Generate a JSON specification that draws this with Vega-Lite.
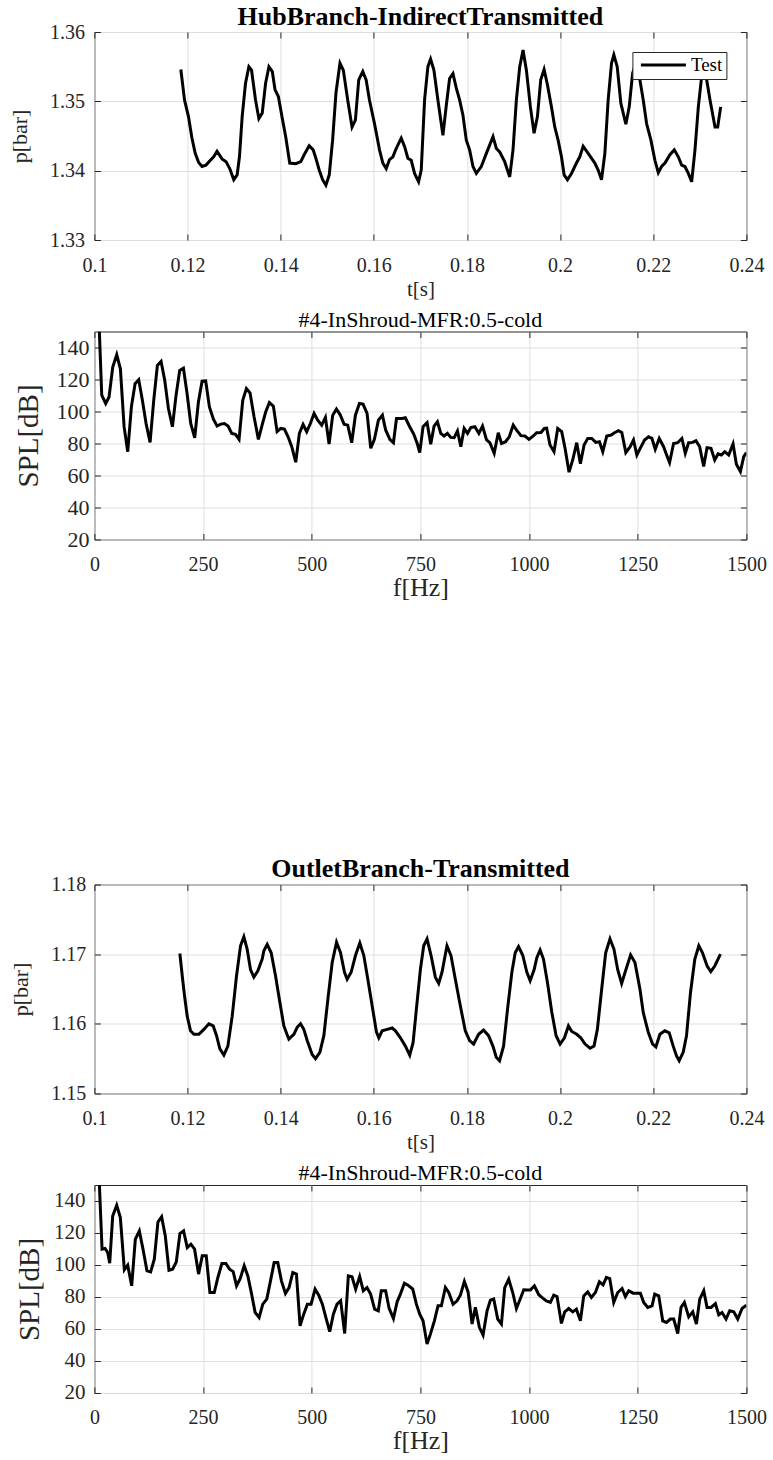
{
  "$schema": "https://vega.github.io/schema/vega-lite/v6.json",
  "background": "white",
  "padding": {"left": 7.4, "top": 3, "right": 0, "bottom": 0},
  "config": {
    "font": "Liberation Serif",
    "view": {"stroke": "#262626", "strokeWidth": 1},
    "axis": {
      "domain": false,
      "gridColor": "#dfdfdf",
      "gridWidth": 1,
      "tickColor": "#262626",
      "tickSize": -6,
      "minExtent": 0,
      "labelFlush": false,
      "labelFont": "Liberation Serif",
      "labelFontSize": 20,
      "labelColor": "#262626",
      "titleFont": "Liberation Serif",
      "titleFontWeight": "normal",
      "titleColor": "#262626"
    },
    "title": {"font": "Liberation Serif", "color": "black", "anchor": "middle"},
    "legend": {
      "title": null,
      "orient": "top-right",
      "offset": 20,
      "symbolType": "M-1,0H9",
      "symbolSize": 81,
      "symbolStrokeWidth": 3,
      "labelFont": "Liberation Serif",
      "labelFontSize": 19,
      "labelColor": "black",
      "labelOffset": 36,
      "padding": 3.5,
      "strokeColor": "#262626",
      "fillColor": "white"
    }
  },
  "datasets": {
    "hub": [
      {"t":0.11856,"p":1.3546},{"t":0.11935,"p":1.3502},{"t":0.1202,"p":1.3478},{"t":0.12094,"p":1.3447},{"t":0.12165,"p":1.3425},{"t":0.12237,"p":1.3412},{"t":0.1231,"p":1.3406},{"t":0.12396,"p":1.3408},{"t":0.1249,"p":1.3415},{"t":0.12561,"p":1.342},{"t":0.12633,"p":1.3428},{"t":0.1274,"p":1.3417},{"t":0.12827,"p":1.3413},{"t":0.12906,"p":1.3403},{"t":0.12993,"p":1.3387},{"t":0.13065,"p":1.3394},{"t":0.13115,"p":1.342},{"t":0.13173,"p":1.3478},{"t":0.13245,"p":1.3526},{"t":0.13317,"p":1.355},{"t":0.13374,"p":1.3545},{"t":0.1346,"p":1.3502},{"t":0.13532,"p":1.3475},{"t":0.13604,"p":1.3483},{"t":0.13676,"p":1.3526},{"t":0.13748,"p":1.355},{"t":0.1382,"p":1.3543},{"t":0.13878,"p":1.3517},{"t":0.1395,"p":1.3507},{"t":0.14036,"p":1.3475},{"t":0.14108,"p":1.3449},{"t":0.14194,"p":1.3411},{"t":0.14324,"p":1.341},{"t":0.14432,"p":1.3413},{"t":0.14504,"p":1.3423},{"t":0.14612,"p":1.3436},{"t":0.14698,"p":1.343},{"t":0.14755,"p":1.3418},{"t":0.14827,"p":1.3401},{"t":0.149,"p":1.3387},{"t":0.14971,"p":1.3379},{"t":0.15043,"p":1.3394},{"t":0.15115,"p":1.3444},{"t":0.15187,"p":1.3512},{"t":0.15273,"p":1.3555},{"t":0.15345,"p":1.3545},{"t":0.15439,"p":1.3502},{"t":0.15532,"p":1.3463},{"t":0.15604,"p":1.3473},{"t":0.15676,"p":1.3531},{"t":0.15763,"p":1.3543},{"t":0.15835,"p":1.3531},{"t":0.15906,"p":1.3502},{"t":0.16014,"p":1.3468},{"t":0.16122,"p":1.343},{"t":0.16194,"p":1.3411},{"t":0.16266,"p":1.3403},{"t":0.16337,"p":1.3416},{"t":0.16409,"p":1.342},{"t":0.1648,"p":1.3432},{"t":0.16588,"p":1.3447},{"t":0.1666,"p":1.3435},{"t":0.16731,"p":1.3418},{"t":0.16803,"p":1.3415},{"t":0.16875,"p":1.3396},{"t":0.16961,"p":1.3384},{"t":0.17018,"p":1.3401},{"t":0.1709,"p":1.3502},{"t":0.17161,"p":1.355},{"t":0.17219,"p":1.3561},{"t":0.1729,"p":1.3545},{"t":0.17376,"p":1.3502},{"t":0.17484,"p":1.3451},{"t":0.17556,"p":1.3494},{"t":0.17627,"p":1.3533},{"t":0.17699,"p":1.354},{"t":0.17771,"p":1.3519},{"t":0.17842,"p":1.3502},{"t":0.17914,"p":1.348},{"t":0.17986,"p":1.3444},{"t":0.18057,"p":1.343},{"t":0.18129,"p":1.3406},{"t":0.18201,"p":1.3396},{"t":0.18308,"p":1.3406},{"t":0.18416,"p":1.3425},{"t":0.18559,"p":1.3449},{"t":0.18631,"p":1.3432},{"t":0.18703,"p":1.3427},{"t":0.1881,"p":1.3413},{"t":0.18918,"p":1.3391},{"t":0.18989,"p":1.343},{"t":0.19061,"p":1.3502},{"t":0.19133,"p":1.355},{"t":0.19204,"p":1.3574},{"t":0.19276,"p":1.3545},{"t":0.19362,"p":1.3492},{"t":0.19441,"p":1.3454},{"t":0.19513,"p":1.3478},{"t":0.19584,"p":1.3531},{"t":0.19656,"p":1.3546},{"t":0.19728,"p":1.3524},{"t":0.19814,"p":1.3492},{"t":0.19885,"p":1.3463},{"t":0.19957,"p":1.3444},{"t":0.20029,"p":1.342},{"t":0.20086,"p":1.3394},{"t":0.20158,"p":1.3387},{"t":0.20244,"p":1.3396},{"t":0.20351,"p":1.3411},{"t":0.20423,"p":1.342},{"t":0.20495,"p":1.3435},{"t":0.20602,"p":1.3425},{"t":0.20746,"p":1.3411},{"t":0.20817,"p":1.3401},{"t":0.20889,"p":1.3387},{"t":0.20961,"p":1.3425},{"t":0.21032,"p":1.3502},{"t":0.21104,"p":1.3555},{"t":0.21154,"p":1.3567},{"t":0.21226,"p":1.355},{"t":0.21305,"p":1.3497},{"t":0.21412,"p":1.3467},{"t":0.21484,"p":1.3492},{"t":0.21556,"p":1.354},{"t":0.21627,"p":1.3556},{"t":0.21713,"p":1.3531},{"t":0.21785,"p":1.3502},{"t":0.21857,"p":1.3468},{"t":0.2195,"p":1.3444},{"t":0.22036,"p":1.3415},{"t":0.22108,"p":1.3397},{"t":0.22179,"p":1.3406},{"t":0.22251,"p":1.3411},{"t":0.22359,"p":1.3423},{"t":0.22452,"p":1.343},{"t":0.22538,"p":1.342},{"t":0.2261,"p":1.3408},{"t":0.22681,"p":1.3406},{"t":0.22753,"p":1.3396},{"t":0.22825,"p":1.3384},{"t":0.22896,"p":1.343},{"t":0.22968,"p":1.3492},{"t":0.2304,"p":1.3536},{"t":0.23097,"p":1.3552},{"t":0.23147,"p":1.3531},{"t":0.23219,"p":1.3502},{"t":0.23326,"p":1.3463},{"t":0.23384,"p":1.3463},{"t":0.23448,"p":1.3492}
    ],
    "outlet": [
      {"t":0.11835,"p":1.1701},{"t":0.11886,"p":1.1669},{"t":0.11936,"p":1.164},{"t":0.11993,"p":1.1611},{"t":0.12064,"p":1.159},{"t":0.12136,"p":1.1585},{"t":0.12243,"p":1.1585},{"t":0.12351,"p":1.1592},{"t":0.12458,"p":1.16},{"t":0.12551,"p":1.1597},{"t":0.12623,"p":1.1583},{"t":0.12694,"p":1.1564},{"t":0.1278,"p":1.1555},{"t":0.12866,"p":1.1568},{"t":0.12959,"p":1.1611},{"t":0.13052,"p":1.1669},{"t":0.13138,"p":1.1712},{"t":0.13209,"p":1.1725},{"t":0.13281,"p":1.1707},{"t":0.13352,"p":1.1678},{"t":0.13424,"p":1.1667},{"t":0.1351,"p":1.1676},{"t":0.13603,"p":1.1693},{"t":0.13639,"p":1.1705},{"t":0.1371,"p":1.1714},{"t":0.13796,"p":1.1702},{"t":0.13889,"p":1.1669},{"t":0.13982,"p":1.1631},{"t":0.14068,"p":1.1597},{"t":0.14175,"p":1.1578},{"t":0.14283,"p":1.1585},{"t":0.14354,"p":1.1595},{"t":0.14426,"p":1.16},{"t":0.14497,"p":1.1592},{"t":0.14569,"p":1.1576},{"t":0.14676,"p":1.1556},{"t":0.14748,"p":1.155},{"t":0.14841,"p":1.1559},{"t":0.14927,"p":1.1583},{"t":0.15013,"p":1.1635},{"t":0.15106,"p":1.1688},{"t":0.15199,"p":1.1717},{"t":0.15285,"p":1.1702},{"t":0.1537,"p":1.1674},{"t":0.15428,"p":1.1664},{"t":0.15513,"p":1.1674},{"t":0.15606,"p":1.1698},{"t":0.15699,"p":1.1716},{"t":0.15785,"p":1.1698},{"t":0.15871,"p":1.1664},{"t":0.15964,"p":1.1626},{"t":0.16057,"p":1.1588},{"t":0.16107,"p":1.158},{"t":0.16179,"p":1.159},{"t":0.16286,"p":1.1592},{"t":0.16394,"p":1.1594},{"t":0.16464,"p":1.159},{"t":0.16571,"p":1.158},{"t":0.16679,"p":1.1568},{"t":0.16771,"p":1.1555},{"t":0.16843,"p":1.1573},{"t":0.16914,"p":1.1621},{"t":0.17,"p":1.1678},{"t":0.17071,"p":1.1712},{"t":0.17143,"p":1.1722},{"t":0.17229,"p":1.1698},{"t":0.17321,"p":1.1667},{"t":0.17393,"p":1.1658},{"t":0.17464,"p":1.1674},{"t":0.17571,"p":1.1712},{"t":0.17657,"p":1.1698},{"t":0.1775,"p":1.1664},{"t":0.17857,"p":1.1626},{"t":0.17964,"p":1.159},{"t":0.18057,"p":1.1576},{"t":0.18143,"p":1.1571},{"t":0.1825,"p":1.1585},{"t":0.18357,"p":1.1591},{"t":0.18464,"p":1.1583},{"t":0.18557,"p":1.1568},{"t":0.18629,"p":1.1552},{"t":0.187,"p":1.1547},{"t":0.18786,"p":1.1568},{"t":0.18871,"p":1.1621},{"t":0.18964,"p":1.1674},{"t":0.19036,"p":1.1702},{"t":0.19107,"p":1.1711},{"t":0.192,"p":1.1698},{"t":0.19286,"p":1.1674},{"t":0.19357,"p":1.1662},{"t":0.19443,"p":1.1678},{"t":0.195,"p":1.1695},{"t":0.19571,"p":1.1706},{"t":0.19643,"p":1.1693},{"t":0.19729,"p":1.1659},{"t":0.19821,"p":1.1617},{"t":0.19914,"p":1.1583},{"t":0.2,"p":1.1571},{"t":0.20093,"p":1.158},{"t":0.20179,"p":1.1597},{"t":0.2025,"p":1.1589},{"t":0.20357,"p":1.1585},{"t":0.20443,"p":1.158},{"t":0.20536,"p":1.1571},{"t":0.20643,"p":1.1565},{"t":0.20729,"p":1.1568},{"t":0.208,"p":1.1592},{"t":0.20893,"p":1.165},{"t":0.20979,"p":1.1702},{"t":0.21071,"p":1.1722},{"t":0.21157,"p":1.1707},{"t":0.21236,"p":1.1678},{"t":0.21321,"p":1.1658},{"t":0.21414,"p":1.1678},{"t":0.21514,"p":1.1699},{"t":0.21607,"p":1.1688},{"t":0.21714,"p":1.165},{"t":0.21786,"p":1.1616},{"t":0.21893,"p":1.1588},{"t":0.21986,"p":1.1571},{"t":0.22057,"p":1.1567},{"t":0.22143,"p":1.1585},{"t":0.2225,"p":1.159},{"t":0.22343,"p":1.1587},{"t":0.22429,"p":1.1568},{"t":0.225,"p":1.1554},{"t":0.22557,"p":1.1547},{"t":0.22643,"p":1.1559},{"t":0.22714,"p":1.1583},{"t":0.228,"p":1.1645},{"t":0.22893,"p":1.1693},{"t":0.22979,"p":1.1712},{"t":0.23057,"p":1.1702},{"t":0.23157,"p":1.1683},{"t":0.23236,"p":1.1675},{"t":0.23321,"p":1.1683},{"t":0.23443,"p":1.17}
    ],
    "spl1": [
      {"f":11.4,"spl":150},{"f":16.9,"spl":110.2},{"f":26,"spl":105},{"f":33.7,"spl":109.1},{"f":42.2,"spl":127.8},{"f":51.4,"spl":135.6},{"f":59.8,"spl":126.7},{"f":68.3,"spl":90.5},{"f":76.7,"spl":74.9},{"f":85.1,"spl":102.9},{"f":93.6,"spl":117.4},{"f":102,"spl":119.9},{"f":110.4,"spl":107},{"f":118.9,"spl":92.5},{"f":128.1,"spl":80.7},{"f":136.5,"spl":107},{"f":144.9,"spl":128.8},{"f":153.4,"spl":131.3},{"f":161.8,"spl":119.5},{"f":170.3,"spl":101.9},{"f":179.5,"spl":90.5},{"f":187.9,"spl":110.2},{"f":196.3,"spl":125.7},{"f":204.8,"spl":127.1},{"f":213.2,"spl":111.2},{"f":221.6,"spl":92.5},{"f":230.8,"spl":83.6},{"f":239.3,"spl":106},{"f":247.7,"spl":118.9},{"f":256.1,"spl":119.1},{"f":264.6,"spl":102.9},{"f":273.8,"spl":95.2},{"f":282.2,"spl":90.9},{"f":290.7,"spl":92.1},{"f":299.1,"spl":92.5},{"f":307.5,"spl":90.9},{"f":316,"spl":86.3},{"f":324.4,"spl":85.7},{"f":332.8,"spl":82.6},{"f":341.3,"spl":107},{"f":349.7,"spl":114.3},{"f":358.1,"spl":111.6},{"f":367.3,"spl":96.7},{"f":377.3,"spl":82.6},{"f":385.8,"spl":91.5},{"f":394.2,"spl":99.8},{"f":402.6,"spl":105.6},{"f":411.8,"spl":103.3},{"f":420.3,"spl":87.4},{"f":428.7,"spl":89.4},{"f":437.1,"spl":89},{"f":445.6,"spl":84.2},{"f":454,"spl":78},{"f":463.2,"spl":68.3},{"f":471.6,"spl":86.3},{"f":480.1,"spl":91.9},{"f":488.5,"spl":87.4},{"f":496.9,"spl":92.5},{"f":505.4,"spl":98.8},{"f":513.8,"spl":94.6},{"f":523,"spl":91.5},{"f":531.5,"spl":96.3},{"f":539.9,"spl":79.7},{"f":548.3,"spl":97.7},{"f":556.8,"spl":101.5},{"f":565.2,"spl":98.1},{"f":574.4,"spl":92.1},{"f":582.8,"spl":91.5},{"f":592,"spl":80.5},{"f":600.5,"spl":97.7},{"f":609.7,"spl":105},{"f":618.1,"spl":104.6},{"f":627.3,"spl":98.8},{"f":635.8,"spl":77},{"f":644.2,"spl":82.6},{"f":653.4,"spl":94.6},{"f":662.6,"spl":97.7},{"f":670,"spl":88.5},{"f":680,"spl":82.5},{"f":688,"spl":80.5},{"f":695,"spl":95.6},{"f":707.7,"spl":95.6},{"f":715.4,"spl":96.1},{"f":725.4,"spl":90.5},{"f":734.6,"spl":85.9},{"f":743.1,"spl":79.7},{"f":748.5,"spl":74.3},{"f":756.1,"spl":90.5},{"f":765.4,"spl":93},{"f":773.8,"spl":79.5},{"f":781.5,"spl":90.9},{"f":789.2,"spl":93.6},{"f":796.9,"spl":86.3},{"f":804.6,"spl":84.7},{"f":812.2,"spl":86.3},{"f":819.9,"spl":83.8},{"f":827.6,"spl":83.6},{"f":835.3,"spl":87.8},{"f":843,"spl":78},{"f":850.7,"spl":89.4},{"f":858.4,"spl":86.3},{"f":866,"spl":90},{"f":875.3,"spl":90.5},{"f":884.5,"spl":86.3},{"f":892.9,"spl":90.9},{"f":902.2,"spl":82.2},{"f":909.8,"spl":80.5},{"f":919.8,"spl":73.9},{"f":929.1,"spl":86.7},{"f":936.7,"spl":80},{"f":946,"spl":81.1},{"f":954.4,"spl":84.2},{"f":963.6,"spl":91.5},{"f":971.3,"spl":88.4},{"f":981.3,"spl":84.9},{"f":990.5,"spl":84.7},{"f":999.8,"spl":82.6},{"f":1009.7,"spl":84.7},{"f":1017.4,"spl":86.7},{"f":1027.4,"spl":86.9},{"f":1035.1,"spl":89.4},{"f":1040.5,"spl":89.6},{"f":1048.2,"spl":79.1},{"f":1057.4,"spl":74.9},{"f":1065.9,"spl":89.4},{"f":1075.1,"spl":87.4},{"f":1082.8,"spl":77},{"f":1092,"spl":62.1},{"f":1100.4,"spl":69.7},{"f":1109.7,"spl":80.5},{"f":1118.1,"spl":67.3},{"f":1126.6,"spl":79.1},{"f":1135,"spl":83.2},{"f":1144.3,"spl":83.2},{"f":1153.5,"spl":80.7},{"f":1161.9,"spl":81.1},{"f":1169.6,"spl":74.9},{"f":1178.8,"spl":84.7},{"f":1188.8,"spl":85.3},{"f":1196.5,"spl":86.7},{"f":1205.7,"spl":88},{"f":1213.4,"spl":86.9},{"f":1222.6,"spl":74.3},{"f":1232.6,"spl":78},{"f":1240.3,"spl":82.2},{"f":1248,"spl":72.8},{"f":1255.7,"spl":77},{"f":1265.7,"spl":82.2},{"f":1274.9,"spl":84.2},{"f":1282.6,"spl":83.2},{"f":1290.3,"spl":76.4},{"f":1299.5,"spl":83.2},{"f":1309.5,"spl":78},{"f":1315.6,"spl":73.5},{"f":1323.3,"spl":68.1},{"f":1332.5,"spl":80},{"f":1341.7,"spl":80.5},{"f":1351.7,"spl":83.2},{"f":1359.4,"spl":73.9},{"f":1367.1,"spl":80.5},{"f":1376.3,"spl":80.7},{"f":1384,"spl":81.8},{"f":1392.5,"spl":78},{"f":1401.7,"spl":65.6},{"f":1409.4,"spl":77.4},{"f":1418.6,"spl":77},{"f":1427.1,"spl":69.7},{"f":1434.8,"spl":73.5},{"f":1442.4,"spl":72.8},{"f":1450.1,"spl":74.9},{"f":1459.3,"spl":72.8},{"f":1469.3,"spl":79.7},{"f":1477,"spl":67},{"f":1486.2,"spl":62.5},{"f":1493.9,"spl":71.8},{"f":1500,"spl":74.3}
    ],
    "spl2": [
      {"f":11.5,"spl":150},{"f":17.6,"spl":109.9},{"f":24.5,"spl":110.3},{"f":30.6,"spl":107.8},{"f":35.2,"spl":101.1},{"f":42.1,"spl":130.6},{"f":51.3,"spl":137.3},{"f":59.7,"spl":129.6},{"f":68.9,"spl":97},{"f":76.6,"spl":99.9},{"f":85.8,"spl":87},{"f":94.2,"spl":116.1},{"f":103.4,"spl":121.3},{"f":111.8,"spl":109.9},{"f":121,"spl":96.3},{"f":129.4,"spl":95.7},{"f":137.8,"spl":103.6},{"f":146.2,"spl":126.9},{"f":154.7,"spl":130.2},{"f":163.1,"spl":118.2},{"f":171.5,"spl":96.7},{"f":179.9,"spl":97.4},{"f":188.4,"spl":101.9},{"f":196.8,"spl":119.6},{"f":205.2,"spl":121.3},{"f":213.6,"spl":110.9},{"f":222,"spl":113},{"f":230.5,"spl":109.9},{"f":239.7,"spl":94.3},{"f":248.1,"spl":105.7},{"f":257.3,"spl":105.7},{"f":265.7,"spl":82.8},{"f":275.7,"spl":82.8},{"f":284.1,"spl":92.2},{"f":293.3,"spl":100.9},{"f":302.5,"spl":100.9},{"f":310.9,"spl":97.4},{"f":319.3,"spl":95.9},{"f":327,"spl":87},{"f":335.4,"spl":91.5},{"f":344.6,"spl":99.5},{"f":353,"spl":93.2},{"f":361.4,"spl":82.2},{"f":369.8,"spl":70.3},{"f":379,"spl":67.2},{"f":387.4,"spl":75.5},{"f":396.6,"spl":78.7},{"f":404.3,"spl":89},{"f":413.5,"spl":101.5},{"f":421.9,"spl":101.5},{"f":430.3,"spl":90.1},{"f":439.5,"spl":82.2},{"f":447.9,"spl":85.9},{"f":456.4,"spl":95.3},{"f":464.8,"spl":94.3},{"f":473.2,"spl":62},{"f":481.6,"spl":69.3},{"f":490,"spl":75.5},{"f":498.5,"spl":75.5},{"f":507.7,"spl":84.9},{"f":516.1,"spl":81.1},{"f":524.5,"spl":75.5},{"f":532.9,"spl":66.8},{"f":541.4,"spl":58.3},{"f":549.8,"spl":69.3},{"f":558.2,"spl":75.5},{"f":566.6,"spl":77.6},{"f":575.8,"spl":57.2},{"f":584.2,"spl":93.2},{"f":592.7,"spl":92.6},{"f":601.1,"spl":84.9},{"f":610.3,"spl":92.8},{"f":618.7,"spl":83.9},{"f":627.1,"spl":85.9},{"f":635.5,"spl":81.8},{"f":644.7,"spl":72.4},{"f":653.1,"spl":71.4},{"f":660,"spl":83.9},{"f":670,"spl":83.9},{"f":678,"spl":73},{"f":688,"spl":66.5},{"f":696.5,"spl":77},{"f":704,"spl":81.8},{"f":713.2,"spl":88.6},{"f":723.2,"spl":87},{"f":732.4,"spl":84.9},{"f":740.8,"spl":75.5},{"f":748.5,"spl":69.3},{"f":756.1,"spl":65.1},{"f":765.3,"spl":50.6},{"f":773,"spl":56.8},{"f":782.2,"spl":65.1},{"f":790.6,"spl":74.5},{"f":798.3,"spl":74.5},{"f":807.5,"spl":85.9},{"f":815.2,"spl":82.8},{"f":825.2,"spl":75.5},{"f":834.4,"spl":77.6},{"f":842,"spl":81.1},{"f":851.2,"spl":89.7},{"f":859.7,"spl":83.2},{"f":868.9,"spl":63.1},{"f":876.5,"spl":73.5},{"f":885.7,"spl":61},{"f":894.2,"spl":56.2},{"f":903.4,"spl":71.4},{"f":911,"spl":78},{"f":918.7,"spl":78.7},{"f":927.9,"spl":66.2},{"f":936.4,"spl":63.1},{"f":944,"spl":85.9},{"f":953.2,"spl":91.1},{"f":962.4,"spl":82.8},{"f":970.9,"spl":72.8},{"f":980.1,"spl":79.1},{"f":987.7,"spl":84.5},{"f":995.4,"spl":84.3},{"f":1003.1,"spl":84.3},{"f":1012.3,"spl":87},{"f":1022.3,"spl":81.4},{"f":1031.5,"spl":79.3},{"f":1039.9,"spl":77.6},{"f":1049.1,"spl":76.6},{"f":1056.8,"spl":81.1},{"f":1064.4,"spl":80.3},{"f":1074.4,"spl":63.5},{"f":1082.1,"spl":70.7},{"f":1091.3,"spl":72.8},{"f":1100.5,"spl":70.7},{"f":1108.9,"spl":72.4},{"f":1118.1,"spl":65.1},{"f":1125.8,"spl":80.7},{"f":1135,"spl":83.2},{"f":1143.4,"spl":79.7},{"f":1152.6,"spl":82.8},{"f":1161.8,"spl":89.5},{"f":1170.3,"spl":87.6},{"f":1177.9,"spl":92.2},{"f":1185.6,"spl":91.5},{"f":1194.8,"spl":76.6},{"f":1204,"spl":82.8},{"f":1214,"spl":85.3},{"f":1221.6,"spl":80.3},{"f":1229.3,"spl":83.9},{"f":1239.3,"spl":82.4},{"f":1256.1,"spl":82.4},{"f":1263.8,"spl":76.6},{"f":1273,"spl":73.5},{"f":1283,"spl":74.5},{"f":1289.1,"spl":81.8},{"f":1298.3,"spl":80.7},{"f":1307.5,"spl":65.1},{"f":1316,"spl":64.1},{"f":1325.2,"spl":66.2},{"f":1332.8,"spl":66.2},{"f":1342.1,"spl":57.2},{"f":1349.7,"spl":73.5},{"f":1357.4,"spl":76.6},{"f":1367.3,"spl":67.6},{"f":1376.6,"spl":70.7},{"f":1385,"spl":63.1},{"f":1392.7,"spl":78.7},{"f":1401.9,"spl":83.9},{"f":1409.5,"spl":73.5},{"f":1418.7,"spl":73.5},{"f":1428.7,"spl":75.9},{"f":1436.4,"spl":68.9},{"f":1444,"spl":70.3},{"f":1453.2,"spl":66.2},{"f":1461.7,"spl":71.4},{"f":1470.9,"spl":70.7},{"f":1480.1,"spl":66.2},{"f":1490.1,"spl":72.8},{"f":1500,"spl":74.9}
    ]
  },
  "bounds": "flush",
  "spacing": 91.5,
  "vconcat": [
    {
      "width": 652,
      "height": 208,
      "title": {"text": "HubBranch-IndirectTransmitted", "fontSize": 26, "fontWeight": "bold", "baseline": "alphabetic", "offset": -29},
      "data": {"name": "hub"},
      "layer": [
        {
          "mark": {"type": "line", "strokeWidth": 3, "clip": true},
          "encoding": {
            "x": {"field": "t", "type": "quantitative", "scale": {"domain": [0.1, 0.24], "nice": false, "zero": false},
                  "axis": {"orient": "bottom", "values": [0.1, 0.12, 0.14, 0.16, 0.18, 0.2, 0.22, 0.24], "format": "~g", "title": "t[s]", "titleFontSize": 21, "labelPadding": 21, "titlePadding": 3}},
            "y": {"field": "p", "type": "quantitative", "scale": {"domain": [1.33, 1.36], "nice": false, "zero": false},
                  "axis": {"orient": "left", "values": [1.33, 1.34, 1.35, 1.36], "format": "~g", "title": "p[bar]", "titleFontSize": 22, "labelPadding": 16, "titlePadding": 18}},
            "color": {"datum": "Test", "type": "nominal", "scale": {"range": ["black"]}}
          }
        },
        {
          "mark": {"type": "line", "opacity": 0},
          "encoding": {
            "x": {"field": "t", "type": "quantitative", "axis": {"orient": "top", "values": [0.1, 0.12, 0.14, 0.16, 0.18, 0.2, 0.22, 0.24], "labels": false, "grid": false, "title": null}},
            "y": {"field": "p", "type": "quantitative", "axis": {"orient": "right", "values": [1.33, 1.34, 1.35, 1.36], "labels": false, "grid": false, "title": null}}
          }
        }
      ],
      "resolve": {"axis": {"x": "independent", "y": "independent"}}
    },
    {
      "width": 652,
      "height": 208,
      "title": {"text": "#4-InShroud-MFR:0.5-cold", "fontSize": 22, "fontWeight": "normal", "baseline": "alphabetic", "offset": -18},
      "data": {"name": "spl1"},
      "layer": [
        {
          "mark": {"type": "line", "color": "black", "strokeWidth": 3, "clip": true},
          "encoding": {
            "x": {"field": "f", "type": "quantitative", "scale": {"domain": [0, 1500], "nice": false},
                  "axis": {"orient": "bottom", "values": [0, 250, 500, 750, 1000, 1250, 1500], "format": "d", "title": "f[Hz]", "titleFontSize": 26, "labelPadding": 21, "titlePadding": 0}},
            "y": {"field": "spl", "type": "quantitative", "scale": {"domain": [20, 150], "nice": false, "zero": false},
                  "axis": {"orient": "left", "values": [20, 40, 60, 80, 100, 120, 140], "format": "d", "title": "SPL[dB]", "titleFontSize": 29, "labelFontSize": 22, "labelPadding": 11.5, "titlePadding": 12}}
          }
        },
        {
          "mark": {"type": "line", "opacity": 0},
          "encoding": {
            "x": {"field": "f", "type": "quantitative", "axis": {"orient": "top", "values": [0, 250, 500, 750, 1000, 1250, 1500], "labels": false, "grid": false, "title": null}},
            "y": {"field": "spl", "type": "quantitative", "axis": {"orient": "right", "values": [20, 40, 60, 80, 100, 120, 140], "labels": false, "grid": false, "title": null}}
          }
        }
      ],
      "resolve": {"axis": {"x": "independent", "y": "independent"}}
    },
    {
      "width": 652,
      "height": 162,
      "view": {"stroke": null},
      "data": {"values": []},
      "mark": {"type": "point", "opacity": 0}
    },
    {
      "width": 652,
      "height": 209,
      "title": {"text": "OutletBranch-Transmitted", "fontSize": 26, "fontWeight": "bold", "baseline": "alphabetic", "offset": -29},
      "data": {"name": "outlet"},
      "layer": [
        {
          "mark": {"type": "line", "strokeWidth": 3, "clip": true},
          "encoding": {
            "x": {"field": "t", "type": "quantitative", "scale": {"domain": [0.1, 0.24], "nice": false, "zero": false},
                  "axis": {"orient": "bottom", "values": [0.1, 0.12, 0.14, 0.16, 0.18, 0.2, 0.22, 0.24], "format": "~g", "title": "t[s]", "titleFontSize": 21, "labelPadding": 21, "titlePadding": 3}},
            "y": {"field": "p", "type": "quantitative", "scale": {"domain": [1.15, 1.18], "nice": false, "zero": false},
                  "axis": {"orient": "left", "values": [1.15, 1.16, 1.17, 1.18], "format": "~g", "title": "p[bar]", "titleFontSize": 22, "labelPadding": 14.7, "titlePadding": 18}},
            "color": {"datum": "Test", "type": "nominal", "scale": {"range": ["black"]}}
          }
        },
        {
          "mark": {"type": "line", "opacity": 0},
          "encoding": {
            "x": {"field": "t", "type": "quantitative", "axis": {"orient": "top", "values": [0.1, 0.12, 0.14, 0.16, 0.18, 0.2, 0.22, 0.24], "labels": false, "grid": false, "title": null}},
            "y": {"field": "p", "type": "quantitative", "axis": {"orient": "right", "values": [1.15, 1.16, 1.17, 1.18], "labels": false, "grid": false, "title": null}}
          }
        }
      ],
      "resolve": {"axis": {"x": "independent", "y": "independent"}}
    },
    {
      "width": 652,
      "height": 208,
      "title": {"text": "#4-InShroud-MFR:0.5-cold", "fontSize": 22, "fontWeight": "normal", "baseline": "alphabetic", "offset": -17.5},
      "data": {"name": "spl2"},
      "layer": [
        {
          "mark": {"type": "line", "color": "black", "strokeWidth": 3, "clip": true},
          "encoding": {
            "x": {"field": "f", "type": "quantitative", "scale": {"domain": [0, 1500], "nice": false},
                  "axis": {"orient": "bottom", "values": [0, 250, 500, 750, 1000, 1250, 1500], "format": "d", "title": "f[Hz]", "titleFontSize": 26, "labelPadding": 21, "titlePadding": 0}},
            "y": {"field": "spl", "type": "quantitative", "scale": {"domain": [20, 150], "nice": false, "zero": false},
                  "axis": {"orient": "left", "values": [20, 40, 60, 80, 100, 120, 140], "format": "d", "title": "SPL[dB]", "titleFontSize": 29, "labelFontSize": 21, "labelPadding": 15.4, "titlePadding": 9.1}}
          }
        },
        {
          "mark": {"type": "line", "opacity": 0},
          "encoding": {
            "x": {"field": "f", "type": "quantitative", "axis": {"orient": "top", "values": [0, 250, 500, 750, 1000, 1250, 1500], "labels": false, "grid": false, "title": null}},
            "y": {"field": "spl", "type": "quantitative", "axis": {"orient": "right", "values": [20, 40, 60, 80, 100, 120, 140], "labels": false, "grid": false, "title": null}}
          }
        }
      ],
      "resolve": {"axis": {"x": "independent", "y": "independent"}}
    }
  ]
}
